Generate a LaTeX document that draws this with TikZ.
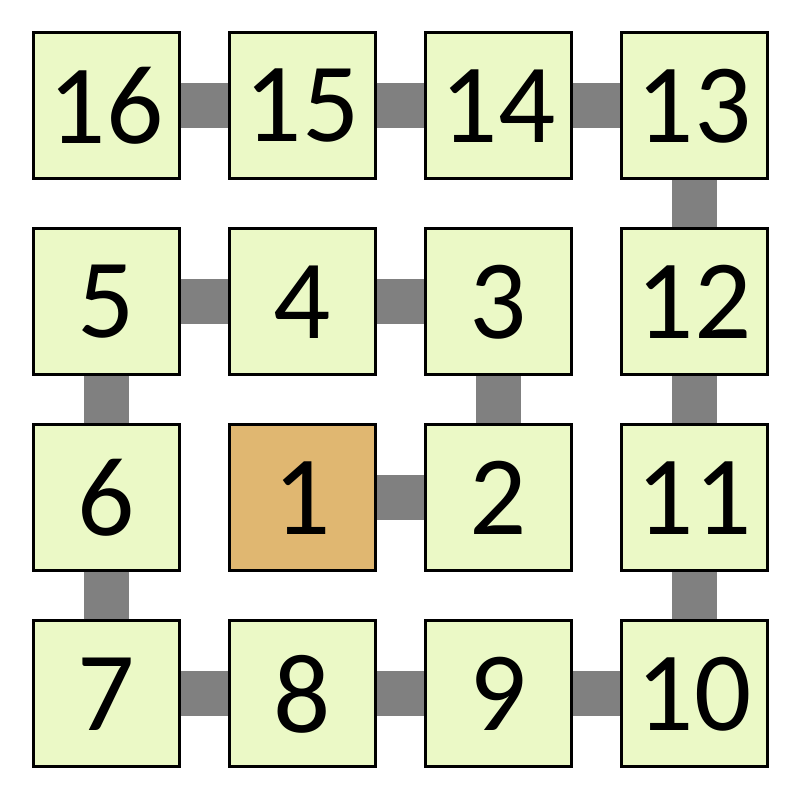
\documentclass[tikz,border=0pt]{standalone}
\usepackage{fontspec}
\setmainfont{Carlito}
\definecolor{cellgreen}{HTML}{EBF9C6}
\definecolor{cellorange}{HTML}{E0B771}
\definecolor{linkgray}{HTML}{808080}
\tikzset{
  cell/.style={draw=black, line width=3pt, fill=cellgreen, minimum size=146pt, inner sep=0pt,
    font=\fontsize{113}{113}\selectfont},
  startcell/.style={cell, fill=cellorange},
  link/.style={draw=linkgray, line width=45pt}
}
\begin{document}
\begin{tikzpicture}[x=1pt,y=1pt]
\useasboundingbox (0,0) rectangle (800,800);
\node[cell] (n16) at (106,694) {16};
\node[cell] (n15) at (302,694) {15};
\node[cell] (n14) at (498,694) {14};
\node[cell] (n13) at (694,694) {13};
\node[cell] (n5) at (106,498) {5};
\node[cell] (n4) at (302,498) {4};
\node[cell] (n3) at (498,498) {3};
\node[cell] (n12) at (694,498) {12};
\node[cell] (n6) at (106,302) {6};
\node[startcell] (n1) at (302,302) {1};
\node[cell] (n2) at (498,302) {2};
\node[cell] (n11) at (694,302) {11};
\node[cell] (n7) at (106,106) {7};
\node[cell] (n8) at (302,106) {8};
\node[cell] (n9) at (498,106) {9};
\node[cell] (n10) at (694,106) {10};
\foreach \a/\b in {16/15,15/14,14/13,13/12,12/11,11/10,10/9,9/8,8/7,7/6,6/5,5/4,4/3,3/2,2/1}
  \draw[link] (n\a) -- (n\b);
\end{tikzpicture}
\end{document}
